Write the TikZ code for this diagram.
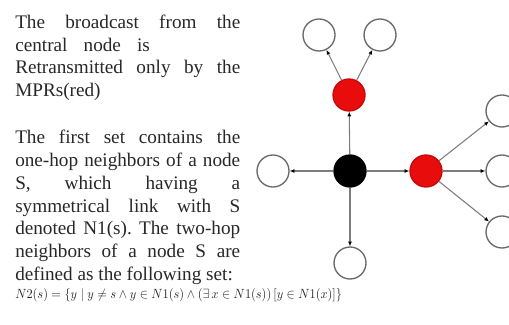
\documentclass[tikz,border=0pt]{standalone}
\usepackage{fontspec}
\setmainfont{Liberation Serif}
\usetikzlibrary{arrows.meta,positioning}
\definecolor{mprRed}{RGB}{232, 12, 12}
\definecolor{edgeGray}{RGB}{125, 125, 125}
\definecolor{ringGray}{RGB}{105, 105, 105}
\definecolor{inkText}{RGB}{40, 40, 40}
\newcommand{\fullline}[1]{\makebox[168.75pt][s]{#1}}
\frenchspacing

\begin{document}
\begin{tikzpicture}[x=0.75pt,y=-0.75pt,
    peer/.style={circle, draw=ringGray, fill=white, line width=1pt, minimum size=24pt, inner sep=0pt},
    mpr/.style={peer, draw=mprRed!85!black, fill=mprRed},
    source/.style={peer, draw=black, fill=black},
    hop/.style={draw=edgeGray, line width=0.8pt, -{Latex[length=3.5pt,width=3pt,color=black]}},
    prose/.style={anchor=north west, inner sep=0pt, text width=168.75pt, align=justify,
        text=inkText, font=\fontsize{14.4pt}{17.1pt}\selectfont}]
    \clip (0,0) rectangle (509,324);
    \fill[white] (0,0) rectangle (509,324);

    % text on the left
    \node[prose] (intro) at (15,14.5) {%
        \fullline{The broadcast from the}\\
        \makebox[101pt][s]{central node is}\\
        \fullline{Retransmitted only by the}\\
        MPRs(red)};
    \node[prose] (sets) at (15,130) {%
        \fullline{The first set contains the}\\
        \fullline{one-hop neighbors of a node}\\
        \fullline{S, which having a}\\
        \fullline{symmetrical link with S}\\
        \fullline{denoted N1(s). The two-hop}\\
        \fullline{neighbors of a node S are}\\
        defined as the following set:};
    \node[anchor=base west, inner sep=0pt, text=inkText, font=\fontsize{9.6pt}{11pt}\selectfont] (def) at (15,298)
        {\scalebox{0.925}[1]{$N2(s) = \{y \mid y \neq s \wedge y \in N1(s) \wedge (\exists\, x \in N1(s))\,[y \in N1(x)]\}$}};

    % network
    \node[source] (src) at (350,171) {};
    \node[mpr] (mprN) at (349,95) {};
    \node[mpr] (mprE) at (426,171) {};
    \node[peer] (leafW) at (273,171) {};
    \node[peer] (leafS) at (350,263) {};
    \node[peer] (leafNW) at (319,35) {};
    \node[peer] (leafNE) at (380,35) {};
    \node[peer] (leafE1) at (502,111) {};
    \node[peer] (leafE2) at (502,171) {};
    \node[peer] (leafE3) at (502,232) {};

    \draw[hop] (src) -- (mprN);
    \draw[hop] (src) -- (mprE);
    \draw[hop] (src) -- (leafW);
    \draw[hop] (src) -- (leafS);
    \draw[hop] (mprN) -- (leafNW);
    \draw[hop] (mprN) -- (leafNE);
    \draw[hop] (mprE) -- (leafE1);
    \draw[hop] (mprE) -- (leafE2);
    \draw[hop] (mprE) -- (leafE3);
\end{tikzpicture}
\end{document}
